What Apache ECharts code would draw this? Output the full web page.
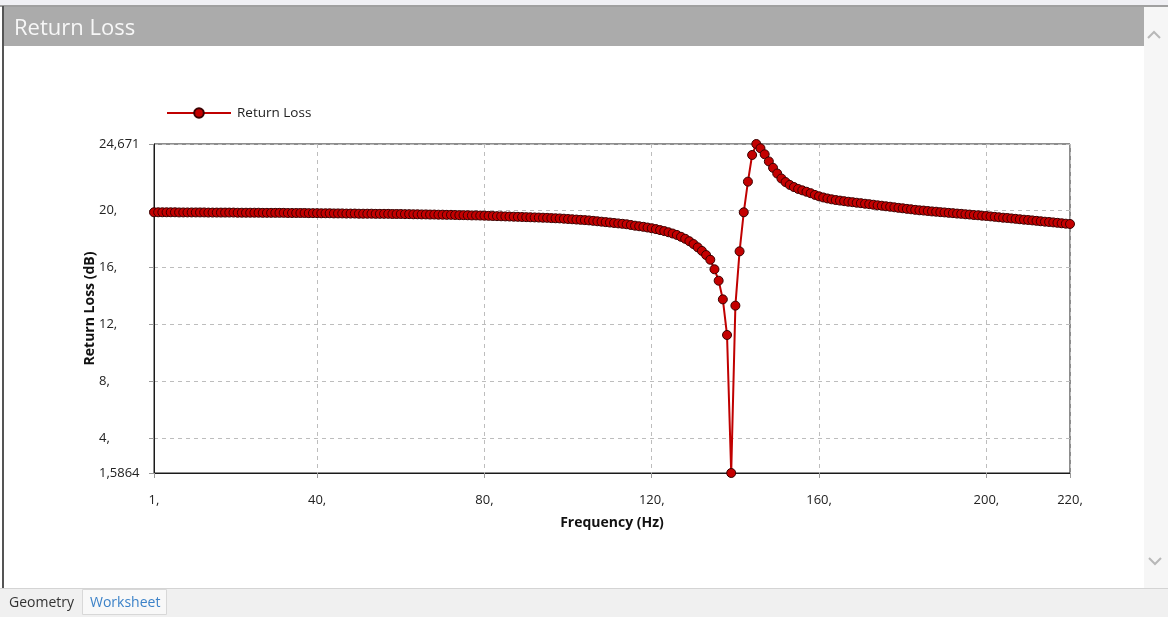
<!DOCTYPE html>
<html>
<head>
<meta charset="utf-8">
<script src="https://cdn.jsdelivr.net/npm/echarts@6/dist/echarts.min.js"></script>
<style>
  html, body { margin: 0; padding: 0; background: #ffffff; }
  #chart { width: 1168px; height: 617px; }
</style>
</head>
<body>
<div id="chart"></div>
<script>
// ---- data ----
const FREQ_START = 1;   // Hz, first sample
const FREQ_STEP = 1;    // Hz between samples

const returnLoss = [
  19.88, 19.88, 19.88, 19.88, 19.88, 19.88, 19.87, 19.87, 19.87, 19.87,
  19.87, 19.87, 19.87, 19.86, 19.86, 19.86, 19.86, 19.86, 19.86, 19.86,
  19.85, 19.85, 19.85, 19.85, 19.85, 19.85, 19.84, 19.84, 19.84, 19.84,
  19.84, 19.84, 19.83, 19.83, 19.83, 19.83, 19.83, 19.82, 19.82, 19.82,
  19.81, 19.81, 19.81, 19.80, 19.80, 19.80, 19.79, 19.79, 19.79, 19.78,
  19.78, 19.78, 19.78, 19.77, 19.77, 19.77, 19.77, 19.76, 19.76, 19.76,
  19.75, 19.75, 19.74, 19.74, 19.73, 19.73, 19.72, 19.72, 19.71, 19.71,
  19.70, 19.70, 19.69, 19.68, 19.68, 19.67, 19.66, 19.66, 19.65, 19.64,
  19.63, 19.62, 19.61, 19.60, 19.59, 19.58, 19.57, 19.56, 19.55, 19.54,
  19.53, 19.52, 19.51, 19.50, 19.49, 19.47, 19.46, 19.45, 19.43, 19.41,
  19.39, 19.37, 19.35, 19.33, 19.31, 19.28, 19.25, 19.22, 19.19, 19.16,
  19.13, 19.10, 19.07, 19.04, 18.99, 18.94, 18.90, 18.86, 18.81, 18.76,
  18.70, 18.63, 18.56, 18.48, 18.39, 18.29, 18.16, 18.02, 17.85, 17.65,
  17.42, 17.17, 16.88, 16.55, 15.88, 15.08, 13.77, 11.27, 1.5864, 13.33,
  17.14, 19.88, 22.03, 23.90, 24.671, 24.37, 23.95, 23.45, 23.00, 22.60,
  22.25, 22.00, 21.80, 21.65, 21.52, 21.42, 21.32, 21.22, 21.10, 21.00,
  20.92, 20.85, 20.79, 20.74, 20.70, 20.66, 20.62, 20.59, 20.55, 20.52,
  20.48, 20.45, 20.41, 20.37, 20.34, 20.30, 20.27, 20.23, 20.19, 20.16,
  20.12, 20.09, 20.05, 20.02, 20.00, 19.97, 19.94, 19.92, 19.89, 19.87,
  19.84, 19.82, 19.79, 19.77, 19.74, 19.72, 19.69, 19.67, 19.64, 19.62,
  19.59, 19.56, 19.53, 19.50, 19.48, 19.45, 19.42, 19.39, 19.36, 19.34,
  19.31, 19.28, 19.25, 19.22, 19.20, 19.17, 19.14, 19.11, 19.08, 19.06
];

const xTickLabels = [1, 40, 80, 120, 160, 200, 220];
const xGridValues = [40, 80, 120, 160, 200];
const yTickLabels = [1.5864, 4, 8, 12, 16, 20, 24.671];
const yGridValues = [4, 8, 12, 16, 20];

const X_MIN = 1, X_MAX = 220;
const Y_MIN = 1.5864, Y_MAX = 24.671;

// ---- build ----
const seriesData = returnLoss.map((v, i) => [FREQ_START + i * FREQ_STEP, v]);

function fmt(v) {
  if (Number.isInteger(v)) return v + ',';
  return String(v).replace('.', ',');
}

const FONT = '"Open Sans", "Noto Sans", sans-serif';

const chart = echarts.init(document.getElementById('chart'), null, { renderer: 'canvas' });

const option = {
  backgroundColor: '#ffffff',
  animation: false,
  textStyle: { fontFamily: FONT },
  graphic: [
    // top strip
    { type: 'rect', shape: { x: 0, y: 0, width: 1168, height: 6 }, style: { fill: '#f0f0f4' }, z: -10 },
    { type: 'rect', shape: { x: 0, y: 5, width: 1168, height: 2 }, style: { fill: '#a0a0a0' }, z: -9 },
    // title bar
    { type: 'rect', shape: { x: 4, y: 7, width: 1140, height: 39 }, style: { fill: '#ababab' }, z: -8 },
    { type: 'text', x: 14, y: 29, style: { text: 'Return Loss', fill: '#f7f7f7', font: '22px ' + FONT, textVerticalAlign: 'middle' }, z: -7 },
    // left border
    { type: 'rect', shape: { x: 2, y: 6, width: 2, height: 584 }, style: { fill: '#555555' }, z: -8 },
    // right scrollbar
    { type: 'rect', shape: { x: 1144, y: 7, width: 24, height: 582 }, style: { fill: '#f6f6f6' }, z: -8 },
    { type: 'polyline', shape: { points: [[1148, 38], [1154, 32], [1160, 38]] }, style: { stroke: '#b8b8b8', lineWidth: 2, fill: null }, z: -7 },
    { type: 'polyline', shape: { points: [[1149, 558], [1155, 564], [1161, 558]] }, style: { stroke: '#b8b8b8', lineWidth: 2, fill: null }, z: -7 },
    // bottom tab bar
    { type: 'rect', shape: { x: 0, y: 589, width: 1168, height: 28 }, style: { fill: '#f0f0f0' }, z: -8 },
    { type: 'rect', shape: { x: 0, y: 588, width: 1168, height: 1 }, style: { fill: '#d4d4d4' }, z: -7 },
    { type: 'rect', shape: { x: 82.5, y: 589.5, width: 84, height: 25 }, style: { fill: '#f8f8f8', stroke: '#d8d8d8', lineWidth: 1 }, z: -6 },
    { type: 'text', x: 9, y: 603, style: { text: 'Geometry', fill: '#333333', font: '14px ' + FONT, textVerticalAlign: 'middle' }, z: -5 },
    { type: 'text', x: 90, y: 603, style: { text: 'Worksheet', fill: '#3c82c8', font: '14px ' + FONT, textVerticalAlign: 'middle' }, z: -5 }
  ],
  legend: {
    left: 161,
    top: 101,
    itemWidth: 64,
    itemHeight: 12,
    itemGap: 10,
    textStyle: { fontFamily: FONT, fontSize: 13.5, color: '#222222', padding: [0, 0, 0, 1] },
    data: ['Return Loss']
  },
  grid: {
    left: 154,
    top: 144,
    right: 98,
    bottom: 144,
    show: true,
    borderColor: '#1a1a1a',
    borderWidth: 1,
    backgroundColor: 'transparent'
  },
  xAxis: {
    type: 'value',
    min: X_MIN,
    max: X_MAX,
    name: 'Frequency (Hz)',
    nameLocation: 'middle',
    nameGap: 43,
    nameTextStyle: { fontFamily: FONT, fontSize: 14, fontWeight: 'bold', color: '#111111' },
    axisLine: { show: true, lineStyle: { color: '#1a1a1a', width: 1 } },
    axisTick: { show: true, length: 5, lineStyle: { color: '#999999' }, customValues: xTickLabels },
    axisLabel: {
      customValues: xTickLabels,
      formatter: fmt,
      margin: 21,
      fontFamily: FONT, fontSize: 13, color: '#222222'
    },
    splitLine: { show: true, customValues: xGridValues, lineStyle: { color: '#bdbdbd', type: [4, 4], width: 1 } }
  },
  yAxis: {
    type: 'value',
    min: Y_MIN,
    max: Y_MAX,
    name: 'Return Loss (dB)',
    nameLocation: 'middle',
    nameGap: 57,
    nameMoveOverlap: false,
    nameRotate: 90,
    nameTextStyle: { fontFamily: FONT, fontSize: 14, fontWeight: 'bold', color: '#111111' },
    axisLine: { show: true, lineStyle: { color: '#1a1a1a', width: 1 } },
    axisTick: { show: true, length: 5, lineStyle: { color: '#999999' }, customValues: yTickLabels },
    axisLabel: {
      customValues: yTickLabels,
      formatter: fmt,
      align: 'left',
      margin: 55,
      fontFamily: FONT, fontSize: 13, color: '#222222'
    },
    splitLine: { show: true, customValues: yGridValues, lineStyle: { color: '#bdbdbd', type: [4, 4], width: 1 } }
  },
  series: [{
    name: 'Return Loss',
    type: 'line',
    data: seriesData,
    symbol: 'circle',
    symbolSize: 9,
    showAllSymbol: true,
    lineStyle: { color: '#c00000', width: 2 },
    itemStyle: { color: '#c40000', borderColor: '#3a0000', borderWidth: 1 },
    clip: false,
    z: 3
  }]
};

chart.setOption(option);
</script>
</body>
</html>
